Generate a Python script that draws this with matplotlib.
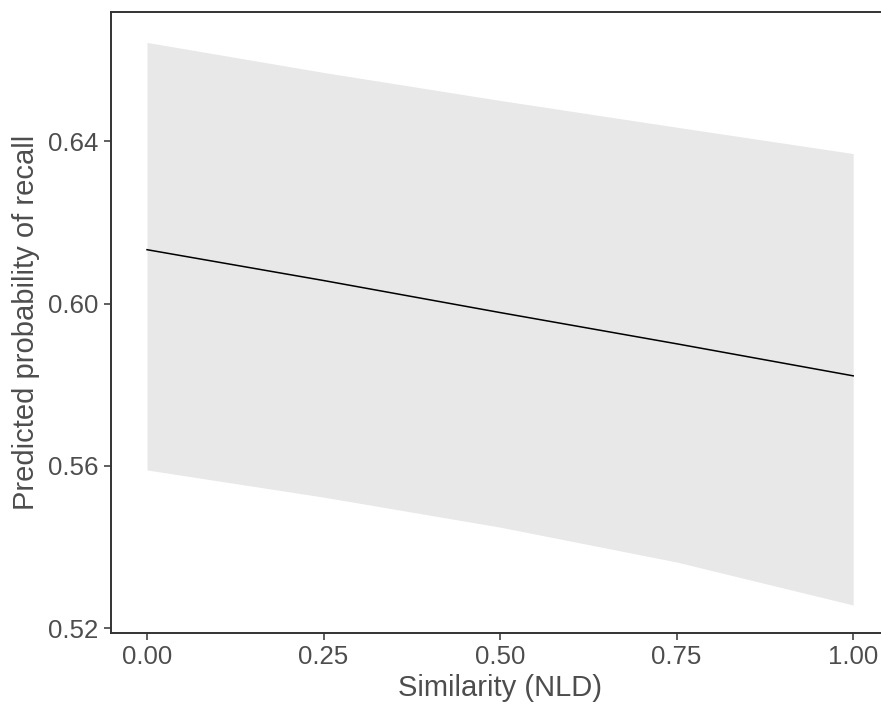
"""Predicted probability of recall vs. similarity (NLD), with confidence band."""

import matplotlib.pyplot as plt

plt.rcParams["font.family"] = ["Liberation Sans", "DejaVu Sans"]

TEXT = "#4d4d4d"
AXIS = "#333333"
BAND = "#e8e8e8"

similarity = [0.00, 0.25, 0.50, 0.75, 1.00]
fit = [0.6133, 0.6057, 0.5978, 0.5901, 0.5822]
lower = [0.5590, 0.5523, 0.5449, 0.5363, 0.5257]
upper = [0.6644, 0.6570, 0.6501, 0.6435, 0.6370]

x_ticks = [0.00, 0.25, 0.50, 0.75, 1.00]
x_labels = ["0.00", "0.25", "0.50", "0.75", "1.00"]
y_ticks = [0.52, 0.56, 0.60, 0.64]
y_labels = ["0.52", "0.56", "0.60", "0.64"]

fig = plt.figure(figsize=(8.81, 7.12), dpi=100)
ax = fig.add_axes([111 / 881, 1 - 633 / 712, (888.5 - 111) / 881, (633 - 12) / 712])

ax.fill_between(similarity, lower, upper, color=BAND, lw=0, zorder=1)
ax.plot(similarity, fit, color="black", lw=1.1, zorder=2)

ax.set_xlim(-0.051, 1.05)
ax.set_ylim(0.5188, 0.6719)
ax.set_xticks(x_ticks, x_labels)
ax.set_yticks(y_ticks, y_labels)

ax.tick_params(length=5, width=1.1, color=AXIS, labelcolor=TEXT, labelsize=18.6, pad=4)
for spine in ax.spines.values():
    spine.set_color(AXIS)
    spine.set_linewidth(1.4)

ax.set_xlabel("Similarity (NLD)", fontsize=21, color=TEXT, labelpad=3)
ax.set_ylabel("Predicted probability of recall", fontsize=21, color=TEXT, labelpad=6)

fig.savefig("out.png", dpi=100)
